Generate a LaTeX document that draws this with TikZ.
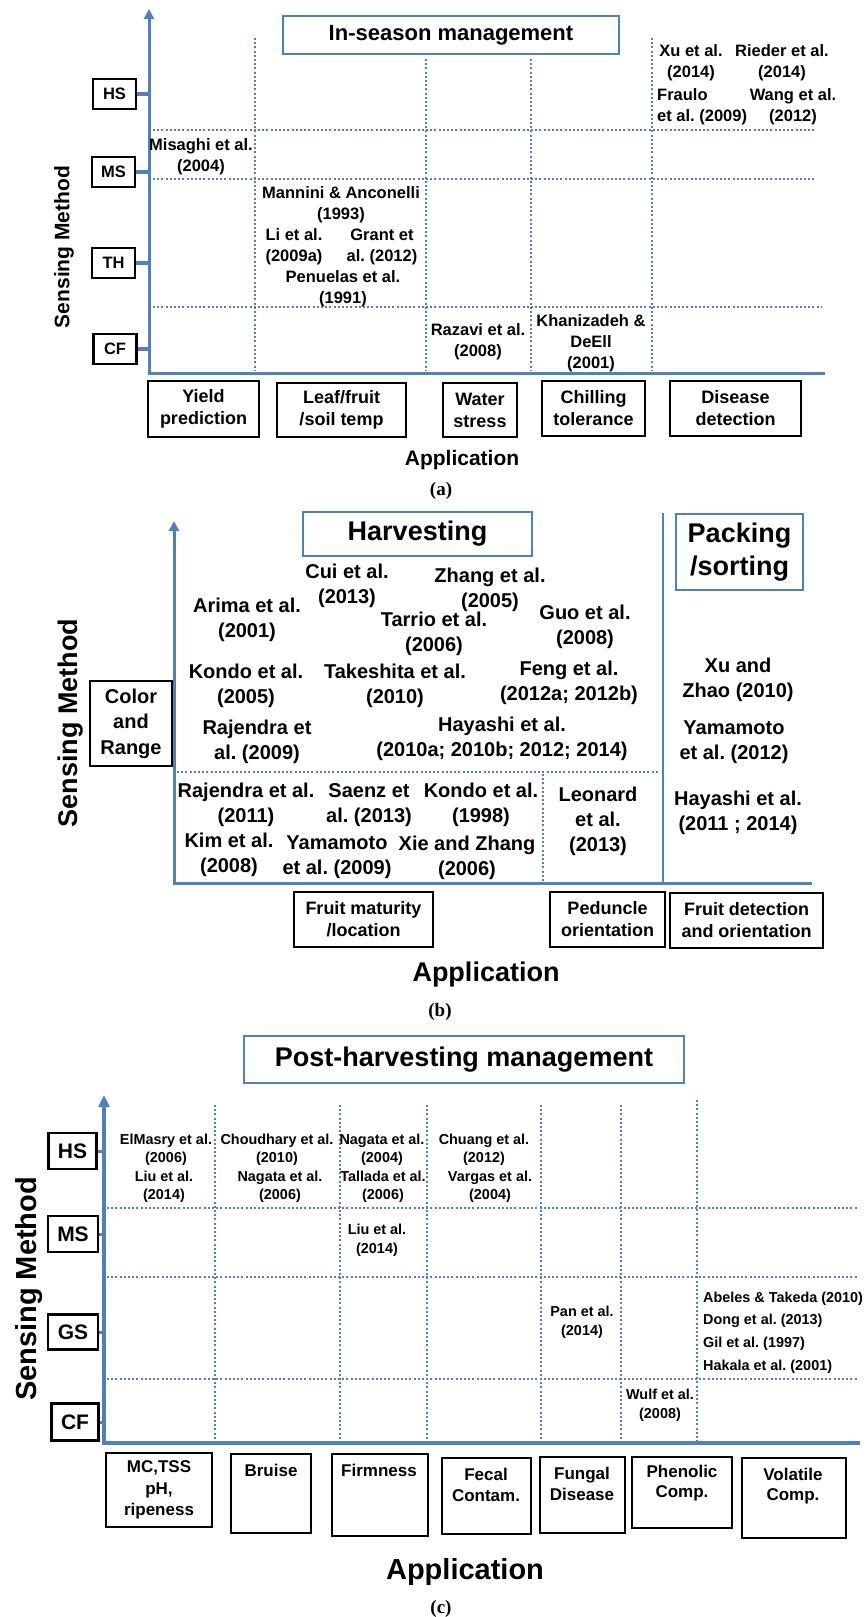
\documentclass[tikz,border=0pt]{standalone}
\usepackage{fontspec}
\setmainfont{Liberation Sans}
\newfontfamily\capfont{Liberation Serif}
\usetikzlibrary{arrows.meta}
\definecolor{axisblue}{RGB}{79,129,189}
\frenchspacing

\begin{document}
\begin{tikzpicture}[x=1pt,y=-1pt,
	axis/.style={draw=axisblue,line width=3pt,-{Triangle[length=10pt,width=10pt]}},
	divider/.style={draw=axisblue,line width=2pt},
	grid/.style={draw=axisblue,line width=2.2pt,dash pattern=on 2pt off 2.2pt},
	tick/.style={draw=axisblue,line width=4pt},
	titlebox/.style={draw=axisblue,line width=2.5pt,inner sep=0pt,align=center,font=\fontsize{27}{33}\selectfont\bfseries},
	appbox/.style={draw=black,line width=2.5pt,inner sep=0pt,align=center},
	methbox/.style={draw=black,line width=2.5pt,inner sep=0pt},
	citetext/.style={inner sep=0pt,align=center},
	citeA/.style={citetext,font=\fontsize{16.5}{21}\selectfont\bfseries},
	citeB/.style={citetext,font=\fontsize{20}{25}\selectfont\bfseries},
	citeC/.style={citetext,font=\fontsize{14.4}{18.5}\selectfont\bfseries},
	axlabel/.style={inner sep=0pt,font=\fontsize{#1}{#1}\selectfont\bfseries},
	panel/.style={inner sep=0pt,font=\fontsize{19}{19}\selectfont\capfont\bfseries}]
	\useasboundingbox (0,0) rectangle (867,1617);

	% (a) in-season management
	\coordinate (aO) at (149,373);
	\coordinate (aY) at (149,9);
	\coordinate (aX) at (825,373);
	\draw[grid] (153,130) -- (816,130);
	\draw[grid] (153,179) -- (816,179);
	\draw[grid] (153,307) -- (822,307);
	\draw[grid] (255,38) -- (255,371);
	\draw[grid] (426,59) -- (426,371);
	\draw[grid] (531,59) -- (531,371);
	\draw[grid] (652,38) -- (652,371);
	\draw[axis] (aX) -- (aO) -- (aY);

	\node[titlebox,minimum width=336pt,minimum height=38pt,font=\fontsize{22}{26}\selectfont\bfseries] (aTitle) at (451,35) {In-season management};

	\node[methbox,minimum width=43pt,minimum height=30pt,font=\fontsize{16.5}{20}\selectfont\bfseries] (aHS) at (114.5,94)  {HS};
	\node[methbox,minimum width=43pt,minimum height=30pt,font=\fontsize{16.5}{20}\selectfont\bfseries] (aMS) at (113.5,172) {MS};
	\node[methbox,minimum width=43pt,minimum height=30pt,font=\fontsize{16.5}{20}\selectfont\bfseries] (aTH) at (113.5,263) {TH};
	\node[methbox,minimum width=43pt,minimum height=30pt,font=\fontsize{16.5}{20}\selectfont\bfseries] (aCF) at (115,349)   {CF};
	\draw[tick] (aHS) -- (aHS -| aO);
	\draw[tick] (aMS) -- (aMS -| aO);
	\draw[tick] (aTH) -- (aTH -| aO);
	\draw[tick] (aCF) -- (aCF -| aO);

	\node[citeA] (aMis) at (201,157) {Misaghi et al.\\(2004)};
	\node[citeA] (aMan) at (341,205) {Mannini \& Anconelli\\(1993)};
	\node[citeA] (aLi)  at (294,247) {Li et al.\\(2009a)};
	\node[citeA] (aGra) at (382,247) {Grant et\\al. (2012)};
	\node[citeA] (aPen) at (343,289) {Penuelas et al.\\(1991)};
	\node[citeA] (aRaz) at (478,342) {Razavi et al.\\(2008)};
	\node[citeA] (aKha) at (591,343) {Khanizadeh \&\\DeEll\\(2001)};
	\node[citeA] (aXu)  at (691,63)  {Xu et al.\\(2014)};
	\node[citeA] (aRie) at (782,63)  {Rieder et al.\\(2014)};
	\node[citeA,align=left,anchor=west] (aFra) at (657,107) {Fraulo\\et al. (2009)};
	\node[citeA] (aWan) at (793,107) {Wang et al.\\(2012)};

	\node[appbox,minimum width=111pt,minimum height=56pt,font=\fontsize{18}{22}\selectfont\bfseries] (aYield) at (203.5,409) {Yield\\prediction};
	\node[appbox,minimum width=129pt,minimum height=54pt,font=\fontsize{18}{22}\selectfont\bfseries] (aLeaf)  at (341.5,410) {Leaf/fruit\\/soil temp};
	\node[appbox,minimum width=74pt,minimum height=54pt,font=\fontsize{18}{22}\selectfont\bfseries]  (aWater) at (480,410)   {Water\\stress};
	\node[appbox,minimum width=103pt,minimum height=55pt,font=\fontsize{18}{22}\selectfont\bfseries] (aChill) at (593.5,408.5) {Chilling\\tolerance};
	\node[appbox,minimum width=131pt,minimum height=55pt,font=\fontsize{18}{22}\selectfont\bfseries] (aDis)   at (735.5,408.5) {Disease\\detection};

	\node[axlabel=21,rotate=90] (aSM) at (64,247) {Sensing Method};
	\node[axlabel=21] (aApp) at (462,460) {Application};
	\node[panel] (aCap) at (441,491) {(a)};

	% (b) harvesting and packing
	\coordinate (bO) at (174,883);
	\coordinate (bY) at (174,521);
	\coordinate (bX) at (812,883);
	\draw[grid] (177,772) -- (658,772);
	\draw[grid] (543,774) -- (543,881);
	\draw[divider] (663,513) -- (663,883);
	\draw[axis] (bX) -- (bO) -- (bY);

	\node[titlebox,minimum width=229pt,minimum height=44pt] (bHarv) at (417.5,534) {Harvesting};
	\node[titlebox,minimum width=127pt,minimum height=76pt] (bPack) at (739.5,552) {Packing\\/sorting};
	\node[methbox,align=center,minimum width=82pt,minimum height=85pt,font=\fontsize{20}{25.5}\selectfont\bfseries] (bCR) at (131,723.5) {Color\\and\\Range};

	\node[citeB] (bCui)  at (347,585.5) {Cui et al.\\(2013)};
	\node[citeB] (bZha)  at (490,589.5) {Zhang et al.\\(2005)};
	\node[citeB] (bAri)  at (247,620)   {Arima et al.\\(2001)};
	\node[citeB] (bTar)  at (434,633.5) {Tarrio et al.\\(2006)};
	\node[citeB] (bGuo)  at (585,627)   {Guo et al.\\(2008)};
	\node[citeB] (bKon)  at (246,685.5) {Kondo et al.\\(2005)};
	\node[citeB] (bTak)  at (395,685.5) {Takeshita et al.\\(2010)};
	\node[citeB] (bFen)  at (569,683)   {Feng et al.\\(2012a; 2012b)};
	\node[citeB] (bRaj)  at (257,741.5) {Rajendra et\\al. (2009)};
	\node[citeB] (bHay)  at (502,738.5) {Hayashi et al.\\(2010a; 2010b; 2012; 2014)};
	\node[citeB] (bRaj2) at (246,805)   {Rajendra et al.\\(2011)};
	\node[citeB] (bSae)  at (369,805)   {Saenz et\\al. (2013)};
	\node[citeB] (bKon2) at (481,805)   {Kondo et al.\\(1998)};
	\node[citeB] (bKim)  at (229,855)   {Kim et al.\\(2008)};
	\node[citeB] (bYam)  at (337,857.5) {Yamamoto\\et al. (2009)};
	\node[citeB] (bXie)  at (467,857.5) {Xie and Zhang\\(2006)};
	\node[citeB] (bLeo)  at (598,821)   {Leonard\\et al.\\(2013)};
	\node[citeB] (bXu)   at (738,679.5) {Xu and\\Zhao (2010)};
	\node[citeB] (bYam2) at (734,742.5) {Yamamoto\\et al. (2012)};
	\node[citeB] (bHay2) at (738,812.5) {Hayashi et al.\\(2011 ; 2014)};

	\node[appbox,minimum width=139pt,minimum height=55pt,font=\fontsize{18}{22}\selectfont\bfseries] (bFru) at (363.5,919.5) {Fruit maturity\\/location};
	\node[appbox,minimum width=115pt,minimum height=55pt,font=\fontsize{18}{22}\selectfont\bfseries] (bPed) at (607.5,919.5) {Peduncle\\orientation};
	\node[appbox,minimum width=153pt,minimum height=55pt,font=\fontsize{18}{22}\selectfont\bfseries] (bDet) at (746.5,920.5) {Fruit detection\\and orientation};

	\node[axlabel=27,rotate=90] (bSM) at (71,723) {Sensing Method};
	\node[axlabel=27] (bApp) at (486,975) {Application};
	\node[panel] (bCap) at (440,1012) {(b)};

	% (c) post-harvesting management
	\coordinate (cO) at (104,1443);
	\coordinate (cY) at (104,1095);
	\coordinate (cX) at (860,1443);
	\draw[grid] (107,1208) -- (858,1208);
	\draw[grid] (107,1277) -- (858,1277);
	\draw[grid] (107,1379) -- (858,1379);
	\draw[grid] (215,1105) -- (215,1441);
	\draw[grid] (340,1105) -- (340,1441);
	\draw[grid] (427,1105) -- (427,1441);
	\draw[grid] (541,1105) -- (541,1441);
	\draw[grid] (621,1105) -- (621,1441);
	\draw[grid] (697,1100) -- (697,1441);
	\draw[axis,line width=4pt,-{Triangle[length=12pt,width=11pt]}] (cX) -- (cO) -- (cY);

	\node[titlebox,minimum width=440pt,minimum height=47pt] (cTitle) at (464,1059.5) {Post-harvesting management};

	\node[methbox,minimum width=48pt,minimum height=36pt,font=\fontsize{21}{24}\selectfont\bfseries] (cHS) at (72.5,1151) {HS};
	\node[methbox,minimum width=50pt,minimum height=36pt,font=\fontsize{21}{24}\selectfont\bfseries] (cMS) at (73,1234)   {MS};
	\node[methbox,minimum width=50pt,minimum height=35pt,font=\fontsize{21}{24}\selectfont\bfseries] (cGS) at (73,1332)   {GS};
	\node[methbox,minimum width=47pt,minimum height=37pt,font=\fontsize{21}{24}\selectfont\bfseries] (cCF) at (75,1422)   {CF};
	\draw[tick,line width=3pt] (cHS) -- (cHS -| cO);
	\draw[tick,line width=3pt] (cMS) -- (cMS -| cO);
	\draw[tick,line width=3pt] (cGS) -- (cGS -| cO);
	\draw[tick,line width=3pt] (cCF) -- (cCF -| cO);

	\node[citeC] (cElM) at (166,1150)   {ElMasry et al.\\(2006)};
	\node[citeC] (cLiu) at (164,1187)   {Liu et al.\\(2014)};
	\node[citeC] (cCho) at (277,1150)   {Choudhary et al.\\(2010)};
	\node[citeC] (cNag) at (280,1187)   {Nagata et al.\\(2006)};
	\node[citeC] (cNag2) at (382,1150)  {Nagata et al.\\(2004)};
	\node[citeC] (cTal) at (383,1187)   {Tallada et al.\\(2006)};
	\node[citeC] (cChu) at (484,1150)   {Chuang et al.\\(2012)};
	\node[citeC] (cVar) at (490,1187)   {Vargas et al.\\(2004)};
	\node[citeC] (cLiu2) at (377,1240.5) {Liu et al.\\(2014)};
	\node[citeC] (cPan) at (582,1322.5) {Pan et al.\\(2014)};
	\node[citeC,anchor=west] (cAbe) at (703,1299) {Abeles \& Takeda (2010)};
	\node[citeC,anchor=west] (cDon) at (703,1321) {Dong et al. (2013)};
	\node[citeC,anchor=west] (cGil) at (703,1344) {Gil et al. (1997)};
	\node[citeC,anchor=west] (cHak) at (703,1367) {Hakala et al. (2001)};
	\node[citeC] (cWul) at (660,1405.5) {Wulf et al.\\(2008)};

	\node[appbox,minimum width=106pt,minimum height=74pt,font=\fontsize{17}{21.5}\selectfont\bfseries] (cMC) at (159,1490) {MC,TSS\\pH,\\ripeness};
	\node[appbox,minimum width=80pt,minimum height=79pt]  (cBru) at (271,1493.5) {};
	\node[appbox,minimum width=96pt,minimum height=82pt]  (cFir) at (380,1495)   {};
	\node[appbox,minimum width=89pt,minimum height=76pt]  (cFec) at (486.5,1496) {};
	\node[appbox,minimum width=85pt,minimum height=76pt]  (cFun) at (582.5,1495) {};
	\node[appbox,minimum width=100pt,minimum height=71pt] (cPhe) at (682,1492.5) {};
	\node[appbox,minimum width=104pt,minimum height=80pt] (cVol) at (794,1498)   {};
	\node[citetext,font=\fontsize{17}{20.5}\selectfont\bfseries] (cBruT) at (271,1470) {Bruise};
	\node[citetext,font=\fontsize{17}{20.5}\selectfont\bfseries] (cFirT) at (379,1470) {Firmness};
	\node[citetext,font=\fontsize{17}{20.5}\selectfont\bfseries] (cFecT) at (486,1485) {Fecal\\Contam.};
	\node[citetext,font=\fontsize{17}{20.5}\selectfont\bfseries] (cFunT) at (582,1484) {Fungal\\Disease};
	\node[citetext,font=\fontsize{17}{20.5}\selectfont\bfseries] (cPheT) at (682,1483) {Phenolic\\Comp.};
	\node[citetext,font=\fontsize{17}{20.5}\selectfont\bfseries] (cVolT) at (793,1486) {Volatile\\Comp.};

	\node[axlabel=29,rotate=90] (cSM) at (29,1289) {Sensing Method};
	\node[axlabel=29] (cApp) at (465,1572) {Application};
	\node[panel] (cCap) at (441,1609) {(c)};
\end{tikzpicture}
\end{document}
